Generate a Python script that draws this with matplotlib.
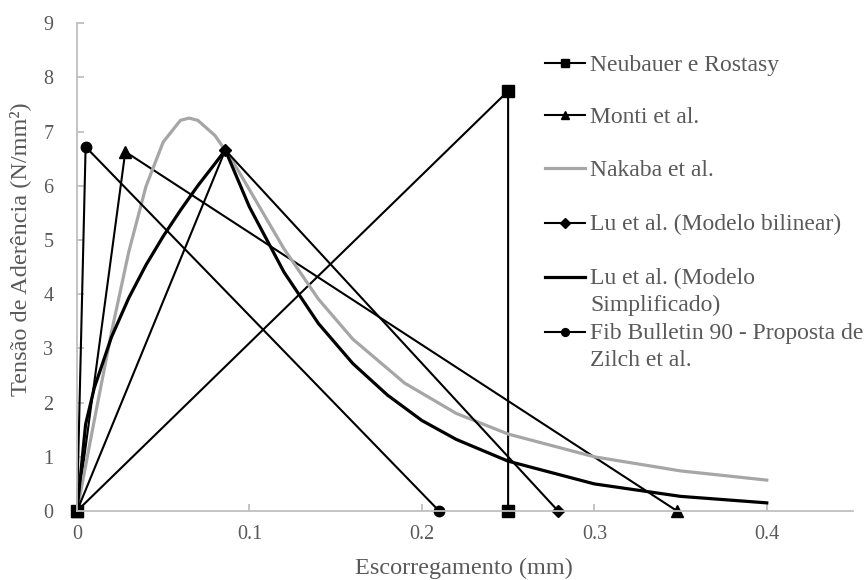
import matplotlib.pyplot as plt
from matplotlib.lines import Line2D

# slip (mm) and bond stress (N/mm2)
neubauer_s = [0, 0.25, 0.25]
neubauer_t = [0, 7.75, 0]

monti_s = [0, 0.028, 0.348]
monti_t = [0, 6.63, 0]

nakaba_s = [0, 0.01, 0.02, 0.03, 0.04, 0.05, 0.06, 0.065, 0.07, 0.08, 0.09, 0.1,
            0.12, 0.14, 0.16, 0.19, 0.22, 0.25, 0.3, 0.35, 0.4]
nakaba_t = [0, 1.67, 3.3, 4.78, 5.99, 6.81, 7.21, 7.25, 7.21, 6.93, 6.47, 5.93,
            4.84, 3.91, 3.17, 2.36, 1.80, 1.42, 1.0, 0.74, 0.57]

lu_bil_s = [0, 0.086, 0.279]
lu_bil_t = [0, 6.66, 0]

lu_simp_s = [0, 0.005, 0.01, 0.02, 0.03, 0.04, 0.05, 0.06, 0.07, 0.08, 0.086, 0.1,
             0.12, 0.14, 0.16, 0.18, 0.2, 0.22, 0.25, 0.3, 0.35, 0.4]
lu_simp_t = [0, 1.60, 2.27, 3.21, 3.93, 4.54, 5.07, 5.55, 6.0, 6.41, 6.66, 5.61,
             4.41, 3.46, 2.72, 2.14, 1.67, 1.32, 0.92, 0.50, 0.27, 0.15]

fib_s = [0, 0.005, 0.21]
fib_t = [0, 6.72, 0]

labels = ["Neubauer e Rostasy", "Monti et al.", "Nakaba et al.",
          "Lu et al. (Modelo bilinear)", "Lu et al. (Modelo\nSimplificado)",
          "Fib Bulletin 90 - Proposta de\nZilch et al."]

x_ticks = [0, 0.1, 0.2, 0.3, 0.4]
x_tick_labels = ["0", "0.1", "0.2", "0.3", "0.4"]
y_ticks = list(range(0, 10))

plt.rcParams['font.family'] = 'Liberation Serif'
text_color = '#595959'
axis_color = '#bfbfbf'
W, H = 864, 580

fig = plt.figure(figsize=(W / 100, H / 100), dpi=100)
ax = fig.add_axes([77 / W, 1 - 511 / H, (853 - 77) / W, (511 - 23.3) / H])

styles = [
    dict(color='black', lw=1.5, marker='s', ms=8.5),
    dict(color='black', lw=1.5, marker='^', ms=8.5),
    dict(color='#a6a6a6', lw=2.3, marker=None),
    dict(color='black', lw=1.5, marker='D', ms=6.5),
    dict(color='black', lw=2.3, marker=None),
    dict(color='black', lw=1.5, marker='o', ms=7.5),
]
series = [(neubauer_s, neubauer_t), (monti_s, monti_t), (nakaba_s, nakaba_t),
          (lu_bil_s, lu_bil_t), (lu_simp_s, lu_simp_t), (fib_s, fib_t)]

for (s, t), st, lab in zip(series, styles, labels):
    ax.plot(s, t, label=lab, clip_on=False, **st)

ax.set_xlim(0, 0.45)
ax.set_ylim(0, 9)
ax.set_xticks(x_ticks)
ax.set_xticklabels(x_tick_labels)
ax.set_yticks(y_ticks)
for side in ['top', 'right']:
    ax.spines[side].set_visible(False)
for side in ['left', 'bottom']:
    ax.spines[side].set_color(axis_color)
    ax.spines[side].set_linewidth(1.3)
ax.tick_params(axis='both', direction='in', length=5, width=1.3, color=axis_color,
               labelcolor=text_color, labelsize=14.5)
ax.tick_params(axis='y', pad=17)
ax.tick_params(axis='x', pad=10)

fig.text(464 / W, 1 - 568 / H, "Escorregamento (mm)", ha='center', va='center',
         fontsize=17.5, color=text_color)
fig.text(20 / W, 1 - 249 / H, "Tensão de Aderência (N/mm²)", ha='center', va='center',
         rotation=90, fontsize=17.5, color=text_color)

# legend drawn by hand so the wrapped entries sit like the original
handle_y = [63, 115, 168, 223, 277, 332]
for hy, st, lab in zip(handle_y, styles, labels):
    yf = 1 - hy / H
    fig.add_artist(Line2D([545 / W, 585 / W], [yf, yf], transform=fig.transFigure,
                          color=st['color'], lw=st['lw']))
    if st['marker']:
        fig.add_artist(Line2D([565 / W], [yf], transform=fig.transFigure,
                              color=st['color'], marker=st['marker'],
                              ms=st['ms'] * 0.75, lw=0))
    for i, line in enumerate(lab.split("\n")):
        fig.text(590 / W, 1 - (hy + 7.5 + 27 * i) / H, line, ha='left', va='baseline',
                 fontsize=17, color=text_color)

fig.savefig('out.png', dpi=100)
